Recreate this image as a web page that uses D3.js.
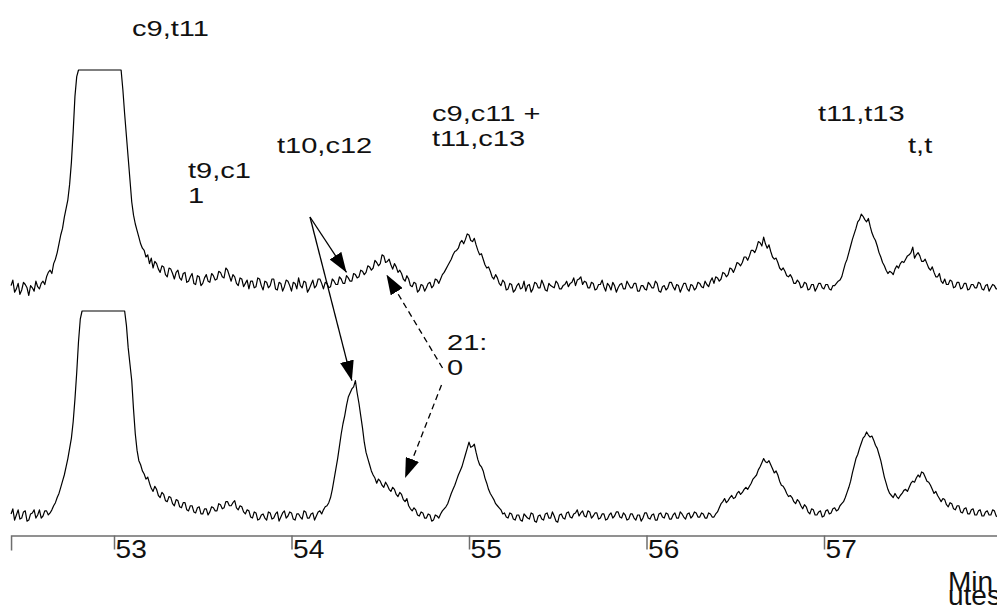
<!DOCTYPE html>
<html>
<head>
<meta charset="utf-8">
<script src="https://cdn.jsdelivr.net/npm/d3@7"></script>
<style>
  html, body { margin: 0; padding: 0; background: #fff; }
  svg { display: block; }
  .trace { fill: none; stroke: #000; stroke-width: 1.2; stroke-linejoin: round; }
  .axis path, .axis line { stroke: #6e6e6e; stroke-width: 1.5; }
  .axis text { font-family: "Liberation Sans", Arial, sans-serif; font-size: 26px; fill: #111; }
  .note { font-family: "Liberation Sans", Arial, sans-serif; font-size: 22px; fill: #111; }
  .title { font-family: "Liberation Sans", Arial, sans-serif; font-size: 28px; fill: #111; }
</style>
</head>
<body>
<div id="chart"></div>
<script>
// detector sampling: one reading every 0.01 min from 52.42 min
const startMinute = 52.42;
const stepMinute = 0.01;
const minuteTicks = [53, 54, 55, 56, 57];
const axisTitle = ['Min', 'utes'];

// top run (detector units; 100 = saturated)
const upperSignal = [
  2, 4.5, -1, 0.5, 3, -2, 0, 3.5, 2.5, 1, -2.5, 2, 1, -0.5, 4, 1.5, 0.5, 3, 4, 2.5,
  6, 8, 9, 7.5, 12, 14, 17, 21, 25, 28, 33, 37, 41, 48, 58, 72, 88, 97, 100, 100,
  100, 100, 100, 100, 100, 100, 100, 100, 100, 100, 100, 100, 100, 100, 100, 100, 100, 100, 100, 100,
  100, 100, 100, 91, 80, 70, 60, 50, 40, 34, 30, 27, 24, 21, 19, 18, 15, 16, 12, 14.5,
  10, 13, 12, 9.5, 8, 11, 10.5, 7, 6, 10, 9.5, 7.5, 5, 8, 9, 5.5, 4.5, 7.5, 8, 3.5,
  4, 6, 7.5, 3, 2.5, 6.5, 6, 2, 3, 5.5, 7, 4, 3.5, 7.5, 6.5, 4.5, 5, 8.5, 8, 6,
  5.5, 10, 9, 6.5, 4, 7, 6, 3, 2, 5.5, 5, 1.5, 3, 4.5, 0.5, 4, 4, 1, 1.5, 5.5,
  5, 2, 0, 4, 3.5, 1, 2, 5, 5, 0.5, 0, 3.5, 3, -0.5, 1.5, 4.5, 4, 2, -0.5, 3.5,
  3, 0.5, 5.5, 2, 1, 4, 3.5, -1, 0.5, 2.5, 4.5, 1, 2, 5, 5, 3, 0.5, 3.5, 3, 1,
  1.5, 5, 4, 2.5, 2.5, 6, 5, 3, 3, 6.5, 5.5, 4, 4, 7.5, 7, 5.5, 6, 9, 8.5, 7,
  8, 11, 10.5, 9, 10, 13.5, 12.5, 11, 12, 16, 15.5, 12.5, 13, 14, 11.5, 9.5, 12, 10.5, 8, 9,
  7.5, 5, 4, 6.5, 5, 2, 1.5, 3.5, 3, -1, 0, 2.5, 2, -0.5, 1, 3, 3.5, 1, 2, 5,
  4.5, 3, 5, 7, 8, 9.5, 11, 12.5, 14, 16, 17.5, 18, 19, 21.5, 22.5, 21, 23, 25.5, 25, 22.5,
  22, 23.5, 20.5, 18, 16, 16.5, 14, 11.5, 10, 10.5, 8.5, 6, 5, 7, 5.5, 3, 2, 4.5, 3.5, 0,
  0.5, 3, 2.5, -1, 0, 2, 3, 0.5, 1, 4, -0.5, 2, 2.5, -1, 0.5, 3.5, 3, 1, 1, 4.5,
  2.5, 0, -0.5, 3, 2, 1.5, 1, 4, 3, 0.5, 0.5, 2, 2.5, 4, 1.5, 3, 3.5, 5.5, 2, 4.5,
  5, 6, 2.5, 4, 3.5, 1, 1, 3.5, 3, 0, 0.5, 2.5, 2.5, 4.5, 1.5, -0.5, 3, 2, 0, 3.5,
  2, -1, 1, 2.5, 3, 0.5, 0.5, 4, 2.5, 1, 1, 3, 3, -0.5, -0.5, 2, 2, 0.5, 0, 3.5,
  2.5, 1, 1, 4, 3, -0.5, -1, 1.5, 2, 0, 1, 3.5, 3.5, 1.5, 0, 2.5, 2, -1, 1, 3,
  3, 0.5, -0.5, 2.5, 2, 0, 1, 3.5, 3, 1.5, 1, 4, 2.5, 1.5, 4, 5.5, 3, 6, 5.5, 4,
  5, 8, 7.5, 6, 7, 10, 9.5, 8, 10, 12.5, 12, 11, 12.5, 15, 15, 13.5, 15.5, 18, 18, 17,
  19, 22, 21.5, 20, 24, 21, 19, 20.5, 17.5, 15, 14, 14.5, 12.5, 10, 9, 10, 8.5, 6.5, 6, 7,
  5.5, 3, 3, 4.5, 3.5, 1, 1.5, 3.5, 3, 0, 0.5, 2.5, 2.5, -0.5, 1, 3, 3, 1, 0.5, 2.5,
  2.5, 0.5, 0, 2, 2, 3, 4, 4.5, 6, 9, 12, 14, 17, 20, 23, 25.5, 28, 31, 32, 34.5,
  33.5, 32, 31, 32.5, 29, 26, 24, 22.5, 20, 17, 15, 12.5, 11, 9, 7.5, 8.5, 8, 7, 9.5, 11,
  10, 12, 13, 12.5, 14, 15.5, 16, 17, 19.5, 14.5, 16, 17, 15.5, 13, 13, 14, 12, 10, 9, 10.5,
  8, 6, 6, 7.5, 4, 3, 5, 2.5, 2.5, 4.5, 4, 1, 1.5, 3.5, 3.5, 0.5, 1, 3, 3, 0,
  0.5, 2.5, 2.5, 1, 1, 3.5, 3, 0.5, 0, 2, 2.5, -0.5, 1, 2.5, 2, 0.5,
  0.5
];

// bottom run
const lowerSignal = [
  1, 3.5, -2, 0.5, 3, -1.5, -1, 2, 2.5, -2.5, -2, 1, 1.5, 3, -1, 0.5, 3, -1, 0, 2.5,
  2.5, 0.5, 1.5, 3, 5, 6.5, 9, 11, 14, 17, 20, 24, 28, 33, 38, 46, 57, 70, 85, 96,
  100, 100, 100, 100, 100, 100, 100, 100, 100, 100, 100, 100, 100, 100, 100, 100, 100, 100, 100, 100,
  100, 100, 100, 100, 100, 93, 82, 74, 66, 52, 40, 32, 27, 25, 22, 20.5, 18, 19, 16, 13.5,
  12, 14.5, 13, 10, 9, 11.5, 10.5, 7.5, 7, 9.5, 9, 6, 5, 8, 7.5, 4.5, 4, 6.5, 6.5, 3,
  2.5, 5, 5, 2, 1.5, 4, 4.5, 1, 1, 3.5, 3.5, 0.5, 2, 4.5, 4, 2.5, 2.5, 6, 5.5, 3.5,
  4, 7, 7, 5, 5, 6.5, 7.5, 4, 3, 5, 4.5, 2, 1, 3, 2.5, -0.5, -1, 2, 1.5, -2,
  -1.5, 0.5, 1, -1, -2, 2, 1.5, -1.5, -1, 1, 2, -2.5, -0.5, 1.5, 2.5, -1, 0, 2, 1.5, -1.5,
  -2, 1, 1, -0.5, -1.5, 2.5, 2, -1, -1, 1, 1.5, -2, 0, 2, 2.5, 1, 3, 4.5, 5, 6.5,
  9, 13, 18, 23, 28, 34, 40, 45, 49, 54, 58, 60, 62, 63, 66, 60, 55, 49, 43, 36,
  31, 28, 25, 22, 20, 18.5, 16, 18, 17, 15, 14, 16.5, 15, 13, 12, 14, 13, 10.5, 9.5, 11.5,
  10.5, 8, 7, 8.5, 5, 3.5, 2.5, 4, 3, 0.5, 0, 2, 1.5, -1, -1, 1, 0.5, -2.5, -2, 0.5,
  0, -1, 1, 2.5, 3.5, 4.5, 6, 8.5, 11, 13, 15, 17.5, 20, 22, 24, 27, 30, 33, 36, 33.5,
  34, 35, 31, 27.5, 25, 24, 22, 18.5, 16, 13, 11, 9.5, 8, 6, 5, 4, 3, 1, 1.5, -0.5,
  -1, 1.5, 1, -1.5, -2, 0.5, 0.5, -2, -2.5, 1, 0, -1, -1.5, 1.5, 1, -2.5, -3, 0, 0.5, -1.5,
  -2, 1, 1.5, -1, -1, 2, 0, -2.5, -3, 0.5, 1, -1, -1.5, 1.5, 2, -0.5, -1, 1, 1.5, 3,
  0, 1.5, 2.5, 0, -0.5, 2.5, 2, -1, 0, 1.5, 1.5, -1.5, -1, 1, 1, -2, -1.5, 0.5, 1.5, -1,
  0, 2, 2, -0.5, -1, 1.5, 0.5, -2, -1.5, 1, 1, -1, -2, 0.5, 0.5, -2.5, -1, 1.5, 1.5, -1,
  -1.5, 0.5, 1, -2, -2, 1, 1.5, -0.5, -1, 1.5, 1, -1.5, -1.5, 0.5, 1.5, -1, -1, 2, 1, -0.5,
  -1.5, 1, 1.5, -1, 0, 2, 1.5, -0.5, -0.5, 1.5, 1, -1, -1, 1.5, 1, -0.5, -0.5, 1, 2, 4,
  6, 7, 8.5, 6.5, 7.5, 9, 10, 8.5, 9, 11, 12, 10.5, 11.5, 13, 14, 13, 14.5, 16, 18, 19,
  20, 22.5, 24, 26, 28, 26.5, 26, 27, 25, 23, 21, 22, 20, 17, 15, 14.5, 13, 11, 9.5, 10,
  9, 7, 6, 8, 7, 5, 3.5, 5.5, 4.5, 2, 1, 3.5, 3, 0.5, 0.5, 2, 2.5, -0.5, 0, 2.5,
  3, 1, 1.5, 3.5, 4, 2.5, 3, 5, 6, 7, 9, 11.5, 14, 17, 21, 24.5, 28, 30, 33, 35.5,
  38, 39, 41, 39.5, 38.5, 39, 37, 34.5, 33, 30, 27, 23, 19, 16, 13, 11, 10, 9, 11, 9.5,
  8.5, 10, 11, 12.5, 13, 12, 14, 16, 17, 16.5, 18.5, 20, 19, 21.5, 21, 19, 17, 16.5, 15, 13,
  11, 12, 10, 8.5, 7, 8.5, 8, 5.5, 4.5, 6.5, 6, 3.5, 3, 5, 5, 2, 1.5, 3.5, 4, 1,
  1, 3, 3.5, 0.5, 0.5, 2.5, 3, 0, 0, 2, 2.5, 0.5, 0.5, 3, 2.5, 0,
  -0.5
];

// peak labels: text lines, left edge and first baseline in px
const peakNotes = [
  { lines: ['c9,t11'], x: 132, y: 36 },
  { lines: ['t9,c1', '1'], x: 188, y: 178 },
  { lines: ['t10,c12'], x: 277, y: 153 },
  { lines: ['c9,c11 +', 't11,c13'], x: 432, y: 121 },
  { lines: ['t11,t13'], x: 818, y: 121 },
  { lines: ['t,t'], x: 908, y: 153 },
  { lines: ['21:', '0'], x: 447, y: 350 }
];

// arrows: tail in px, tip at (minute, signal) on a trace
const pointers = [
  { from: [310, 217], minute: 54.31, value: 8, trace: 'upper', dashed: false },
  { from: [310, 217], minute: 54.34, value: 66, trace: 'lower', dashed: false },
  { from: [442.5, 368], minute: 54.535, value: 7, trace: 'upper', dashed: true },
  { from: [441.5, 385], minute: 54.64, value: 18.5, trace: 'lower', dashed: true }
];

const width = 997, height = 607;
const svg = d3.select('#chart').append('svg')
  .attr('width', width).attr('height', height);

// 53 min sits at 114 px, 177.5 px per minute
const endMinute = startMinute + (upperSignal.length - 1) * stepMinute;
const tickScale = d3.scaleLinear().domain([53, 57]).range([114, 824]);
const x = d3.scaleLinear()
  .domain([startMinute, endMinute])
  .range([tickScale(startMinute), tickScale(endMinute)]);
const yUpper = d3.scaleLinear().domain([0, 100]).range([290, 70]);
const yLower = d3.scaleLinear().domain([0, 100]).range([516, 311]);
const scales = { upper: yUpper, lower: yLower };

const defs = svg.append('defs');
defs.append('marker')
  .attr('id', 'head')
  .attr('markerUnits', 'userSpaceOnUse')
  .attr('viewBox', '0 0 20 14')
  .attr('markerWidth', 20).attr('markerHeight', 14)
  .attr('refX', 20).attr('refY', 7)
  .attr('orient', 'auto')
  .append('path')
  .attr('d', 'M0,0 L20,7 L0,14 Z')
  .attr('fill', '#000');

function drawTrace(signal, y) {
  const line = d3.line()
    .x((d, i) => x(startMinute + i * stepMinute))
    .y(d => y(d));
  svg.append('path')
    .datum(signal)
    .attr('class', 'trace')
    .attr('d', line);
}
drawTrace(upperSignal, yUpper);
drawTrace(lowerSignal, yLower);

// time axis
const xAxis = d3.axisBottom(x)
  .tickValues(minuteTicks)
  .tickFormat(d3.format('d'))
  .tickSizeInner(14)
  .tickSizeOuter(15);
const axisG = svg.append('g')
  .attr('class', 'axis')
  .attr('transform', 'translate(0,535.5)')
  .call(xAxis);
axisG.selectAll('.tick text')
  .attr('text-anchor', 'start')
  .attr('x', 1)
  .attr('y', 22)
  .attr('dy', 0)
  .attr('transform', 'scale(1.08,1)')
  .attr('fill', '#111');

svg.append('text')
  .attr('class', 'title')
  .selectAll('tspan')
  .data(axisTitle)
  .join('tspan')
  .attr('x', 948)
  .attr('y', (d, i) => 591 + i * 14)
  .text(d => d);

// peak labels
peakNotes.forEach(p => {
  const t = svg.append('text')
    .attr('class', 'note')
    .attr('transform', `translate(${p.x},${p.y}) scale(1.32,1)`);
  t.selectAll('tspan')
    .data(p.lines)
    .join('tspan')
    .attr('x', 0)
    .attr('y', (d, i) => i * 25)
    .text(d => d);
});

// arrows
svg.append('g').selectAll('line')
  .data(pointers)
  .join('line')
  .attr('x1', d => d.from[0])
  .attr('y1', d => d.from[1])
  .attr('x2', d => x(d.minute))
  .attr('y2', d => scales[d.trace](d.value))
  .attr('stroke', '#000')
  .attr('stroke-width', 1.3)
  .attr('stroke-dasharray', d => d.dashed ? '6,4' : null)
  .attr('marker-end', 'url(#head)');
</script>
</body>
</html>
